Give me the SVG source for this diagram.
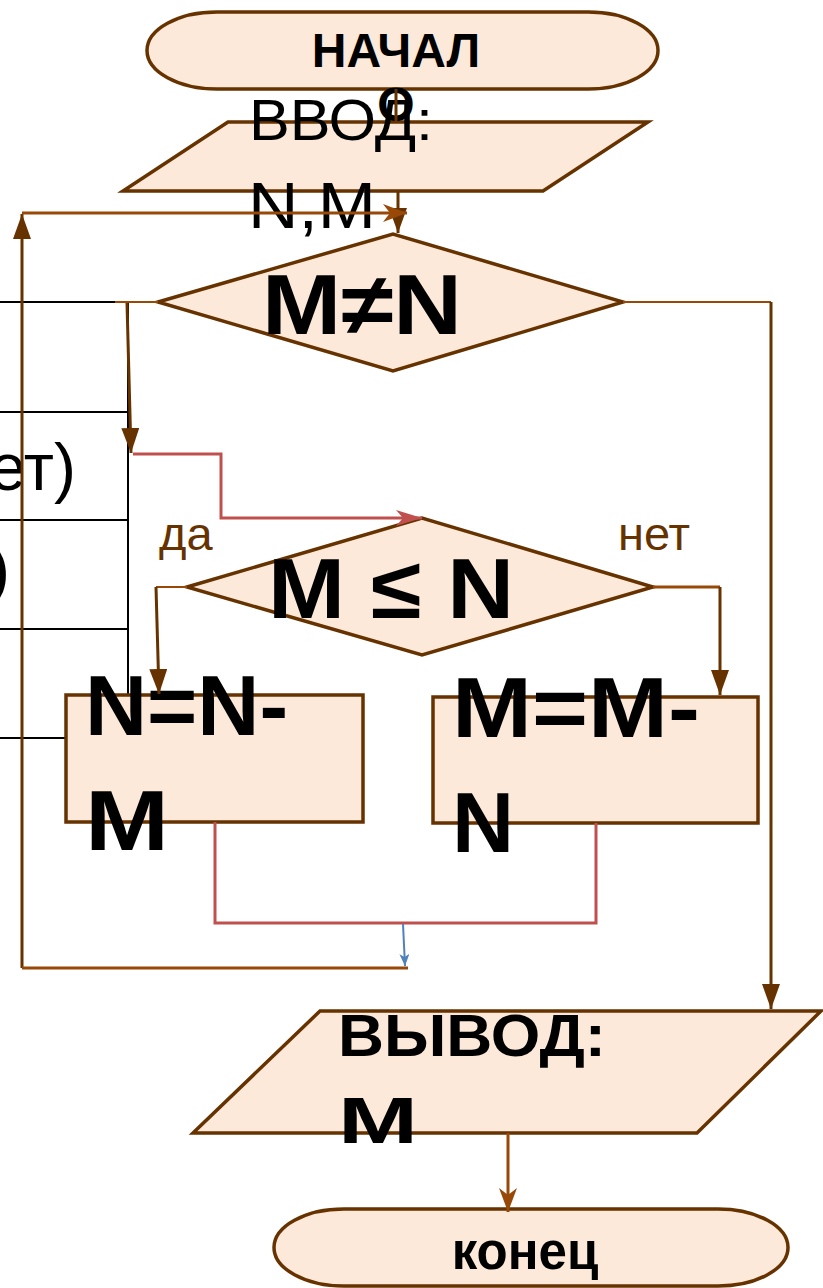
<svg xmlns="http://www.w3.org/2000/svg" width="823" height="1288" viewBox="0 0 823 1288">
<style>
.shape{fill:#fde9d9;stroke:#663300;stroke-width:3.5}
.t{font-family:"Liberation Sans",Arial,sans-serif;fill:#000}
.b{font-weight:bold}
.dk{fill:none;stroke:#663300;stroke-width:3}
.or{fill:none;stroke:#984807;stroke-width:3}
.thin{stroke-width:2}
.red{fill:none;stroke:#c0504d;stroke-width:3}
.blue{fill:none;stroke:#4f81bd;stroke-width:2}
.tbl{stroke:#000;stroke-width:2;fill:none}
.lbl{font-family:"Liberation Sans",Arial,sans-serif;font-size:47px;fill:#663300}
</style>
<defs>
<marker id="tri" markerUnits="userSpaceOnUse" viewBox="0 0 26 18" markerWidth="26" markerHeight="18" refX="25" refY="9" orient="auto"><path d="M0,0 L25,9 L0,18 z" fill="#663300"/></marker>
<marker id="st" markerUnits="userSpaceOnUse" viewBox="0 0 24 18" markerWidth="24" markerHeight="18" refX="24" refY="9" orient="auto"><path d="M0,0 L24,9 L0,18 L7,9 z" fill="#984807"/></marker>
<marker id="rst" markerUnits="userSpaceOnUse" viewBox="0 0 26 16" markerWidth="26" markerHeight="16" refX="26" refY="8" orient="auto"><path d="M0,0 L26,8 L0,16 L7,8 z" fill="#c0504d"/></marker>
<marker id="bst" markerUnits="userSpaceOnUse" viewBox="0 0 12 10" markerWidth="12" markerHeight="10" refX="12" refY="5" orient="auto"><path d="M0,0 L12,5 L0,10 L3,5 z" fill="#4f81bd"/></marker>
</defs>

<g id="table">
<path class="tbl" d="M0,302 H128" stroke-width="4"/>
<path class="tbl" d="M128,302 V696 M0,412 H128 M0,520 H128 M0,629 H128 M0,738 H67"/>
<text class="t" x="76" y="490" font-size="66" text-anchor="end">(нет)</text>
<text class="t" x="10" y="592" font-size="66" text-anchor="end">(да)</text>
</g>

<g id="input">
<polygon class="shape" points="228,122 648,122 543,191 123,191"/>
<text class="t" x="249" y="140" font-size="57" textLength="184" lengthAdjust="spacingAndGlyphs">ВВОД:</text>
<text class="t" x="248" y="228" font-size="64" textLength="128" lengthAdjust="spacingAndGlyphs">N,M</text>
</g>

<g id="start">
<rect class="shape" x="147" y="12" width="511" height="77" rx="70" ry="38.5"/>
<text class="t b" x="396" y="67" font-size="48" text-anchor="middle">НАЧАЛ</text>
<text class="t b" x="396" y="121" font-size="48" text-anchor="middle">О</text>
</g>

<g id="cond1">
<polygon class="shape" points="158,302 393,234 623,302 393,371"/>
<text class="t b" x="262" y="334" font-size="86" textLength="200" lengthAdjust="spacingAndGlyphs">M≠N</text>
</g>

<g id="cond2">
<polygon class="shape" points="187,587 422,518 653,587 422,655"/>
<text class="t b" x="268" y="618" font-size="86" textLength="246" lengthAdjust="spacingAndGlyphs">M ≤ N</text>
</g>

<g id="labels">
<text class="lbl" x="159" y="550">да</text>
<text class="lbl" x="618" y="550">нет</text>
</g>

<g id="boxN">
<rect class="shape" x="66" y="695" width="297" height="127"/>
<text class="t b" x="85" y="735" font-size="86">N=N-</text>
<text class="t b" x="85" y="850" font-size="86" textLength="84" lengthAdjust="spacingAndGlyphs">M</text>
</g>

<g id="boxM">
<rect class="shape" x="433" y="697" width="325" height="126"/>
<text class="t b" x="452" y="737" font-size="86" textLength="248" lengthAdjust="spacingAndGlyphs">M=M-</text>
<text class="t b" x="452" y="852" font-size="86">N</text>
</g>

<g id="output">
<polygon class="shape" points="320,1011 821,1011 697,1133 193,1133"/>
<text class="t b" x="338" y="1056" font-size="60" textLength="268" lengthAdjust="spacingAndGlyphs">ВЫВОД:</text>
<text class="t b" x="338" y="1143" font-size="64" textLength="80" lengthAdjust="spacingAndGlyphs">M</text>
</g>

<g id="end">
<rect class="shape" x="274" y="1209" width="514" height="77" rx="70" ry="38.5"/>
<text class="t b" x="525" y="1269" font-size="51" text-anchor="middle">конец</text>
</g>

<g id="connectors">
<path class="dk" d="M396,89 V122"/>
<path class="dk" d="M398,191 V233" marker-end="url(#tri)"/>
<path class="dk" d="M22,968 V214" marker-end="url(#tri)"/>
<path class="or" d="M22,213 H407" marker-end="url(#st)"/>
<path class="or" d="M22,968 H408"/>
<path class="or thin" d="M158,302 H115"/>
<path class="dk" d="M127,303 L131,453" marker-end="url(#tri)"/>
<path class="red" d="M133,454 H221 V518 H422" marker-end="url(#rst)"/>
<path class="or thin" d="M187,587 H156"/>
<path class="dk" d="M156,587 L159,694" marker-end="url(#tri)"/>
<path class="or" d="M653,587 H720"/>
<path class="dk" d="M720,587 V695" marker-end="url(#tri)"/>
<path class="or thin" d="M623,302 H771"/>
<path class="dk" d="M771,302 V1009" marker-end="url(#tri)"/>
<path class="red" stroke-width="2.5" d="M215,822 V923 H596 V823"/>
<path class="blue" d="M403,924 L405,966" marker-end="url(#bst)"/>
<path class="or" d="M508,1133 V1212" marker-end="url(#st)"/>
</g>
</svg>
